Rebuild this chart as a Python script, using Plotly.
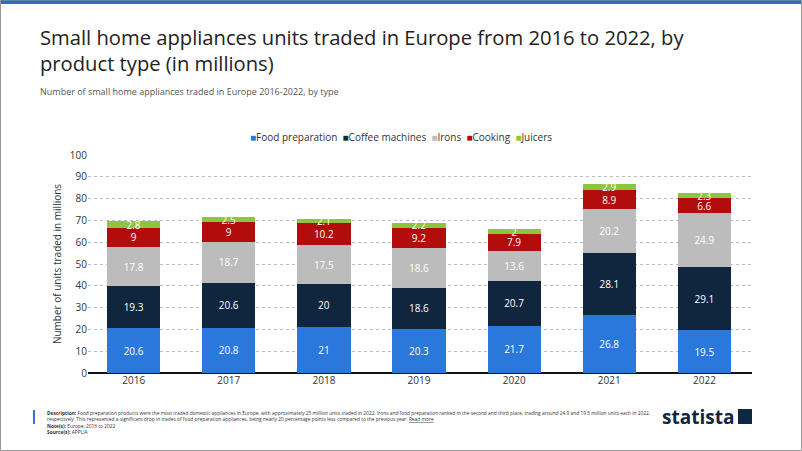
import plotly.graph_objects as go

years = ["2016", "2017", "2018", "2019", "2020", "2021", "2022"]
food = [20.6, 20.8, 21, 20.3, 21.7, 26.8, 19.5]
coffee = [19.3, 20.6, 20, 18.6, 20.7, 28.1, 29.1]
irons = [17.8, 18.7, 17.5, 18.6, 13.6, 20.2, 24.9]
cooking = [9, 9, 10.2, 9.2, 7.9, 8.9, 6.6]
juicers = [2.8, 2.5, 2.1, 2.2, 2, 2.9, 2.3]

series = [
    ("Food preparation", food, "#2a78dc"),
    ("Coffee machines", coffee, "#10263f"),
    ("Irons", irons, "#bcbcbc"),
    ("Cooking", cooking, "#b20c0c"),
    ("Juicers", juicers, "#8cc63e"),
]

W, H = 802, 451
L, R, T, B = 88, 752, 155, 373

def px(x):
    return (x - L) / (R - L)

def py(y):
    return (B - y) / (B - T)

fig = go.Figure()
for name, vals, col in series:
    fig.add_trace(go.Bar(
        x=years, y=vals, name=name, marker=dict(color=col, line=dict(width=0)),
        text=[f"{v:g}" for v in vals], textposition="inside", insidetextanchor="middle",
        textangle=0, textfont=dict(color="white", size=10, family="Open Sans"),
        constraintext="none", cliponaxis=False, width=0.56, showlegend=False,
    ))

fig.update_layout(
    width=W, height=H, barmode="stack",
    margin=dict(l=L, r=W - R, t=T, b=H - B, autoexpand=False),
    paper_bgcolor="white", plot_bgcolor="white",
    font=dict(family="Open Sans", color="#333"),
    showlegend=False,
    xaxis=dict(type="category", range=[-0.48, 6.5], showgrid=False, automargin=False,
               tickfont=dict(size=10, color="#333"), ticks="", showline=False),
    yaxis=dict(range=[0, 100], dtick=10, showgrid=True, gridcolor="#bdbdbd", automargin=False,
               griddash="dot", gridwidth=1, zeroline=True, zerolinecolor="#111",
               zerolinewidth=2, tickfont=dict(size=10, color="#333"),
               title=dict(text="Number of units traded in millions",
                          font=dict(size=10, color="#333"), standoff=6)),
)

legend_text = "&nbsp;&nbsp;".join(
    f'<span style="color:{col}">■</span>{name}' for name, _, col in series)

anns = [
    dict(x=px(38), y=py(50), text="Small home appliances units traded in Europe from 2016 to 2022, by<br>product type (in millions)",
         font=dict(size=20.2, color="#222", family="Open Sans"), xanchor="left", yanchor="middle", align="left"),
    dict(x=px(38), y=py(91), text="Number of small home appliances traded in Europe 2016-2022, by type",
         font=dict(size=9, color="#555"), xanchor="left", yanchor="middle", align="left"),
    dict(x=px(401), y=py(137), text=legend_text,
         font=dict(size=10, color="#333"), xanchor="center", yanchor="middle"),
    dict(x=px(45), y=py(422), text=(
        "<b>Description:</b> Food preparation products were the most traded domestic appliances in Europe, with approximately 25 million units traded in 2022. Irons and food preparation ranked in the second and third place, trading around 24.9 and 19.5 million units each in 2022,<br>"
        "respectively. This represented a significant drop in trades of food preparation appliances, being nearly 20 percentage points less compared to the previous year. <u>Read more</u><br>"
        "<b>Note(s):</b> Europe; 2016 to 2022<br><b>Source(s):</b> APPLIA"),
         font=dict(size=4.85, color="#333"), xanchor="left", yanchor="middle", align="left"),
    dict(x=px(736), y=py(417), text="<b>statista</b>", font=dict(size=19, color="#0f2741"),
         xanchor="right", yanchor="middle"),
]
for a in anns:
    a.update(xref="paper", yref="paper", showarrow=False)
    fig.add_annotation(**a)

shapes = [
    dict(type="rect", x0=px(0), x1=px(802), y0=py(0), y1=py(4), fillcolor="#2a6fbf", line=dict(width=0)),
    dict(type="rect", x0=px(0.5), x1=px(801.5), y0=py(0), y1=py(450.5), fillcolor="rgba(0,0,0,0)", line=dict(color="#999", width=1)),
    dict(type="rect", x0=px(33), x1=px(35), y0=py(410), y1=py(424), fillcolor="#2a78dc", line=dict(width=0)),
    dict(type="rect", x0=px(738), x1=px(752), y0=py(409), y1=py(424), fillcolor="#0f2741", line=dict(width=0)),
]
for s in shapes:
    s.update(xref="paper", yref="paper", layer="above")
    fig.add_shape(**s)

fig.write_html("out.html", config={"displayModeBar": False},
               post_script="document.body.style.margin='0';document.body.style.overflow='hidden';")
